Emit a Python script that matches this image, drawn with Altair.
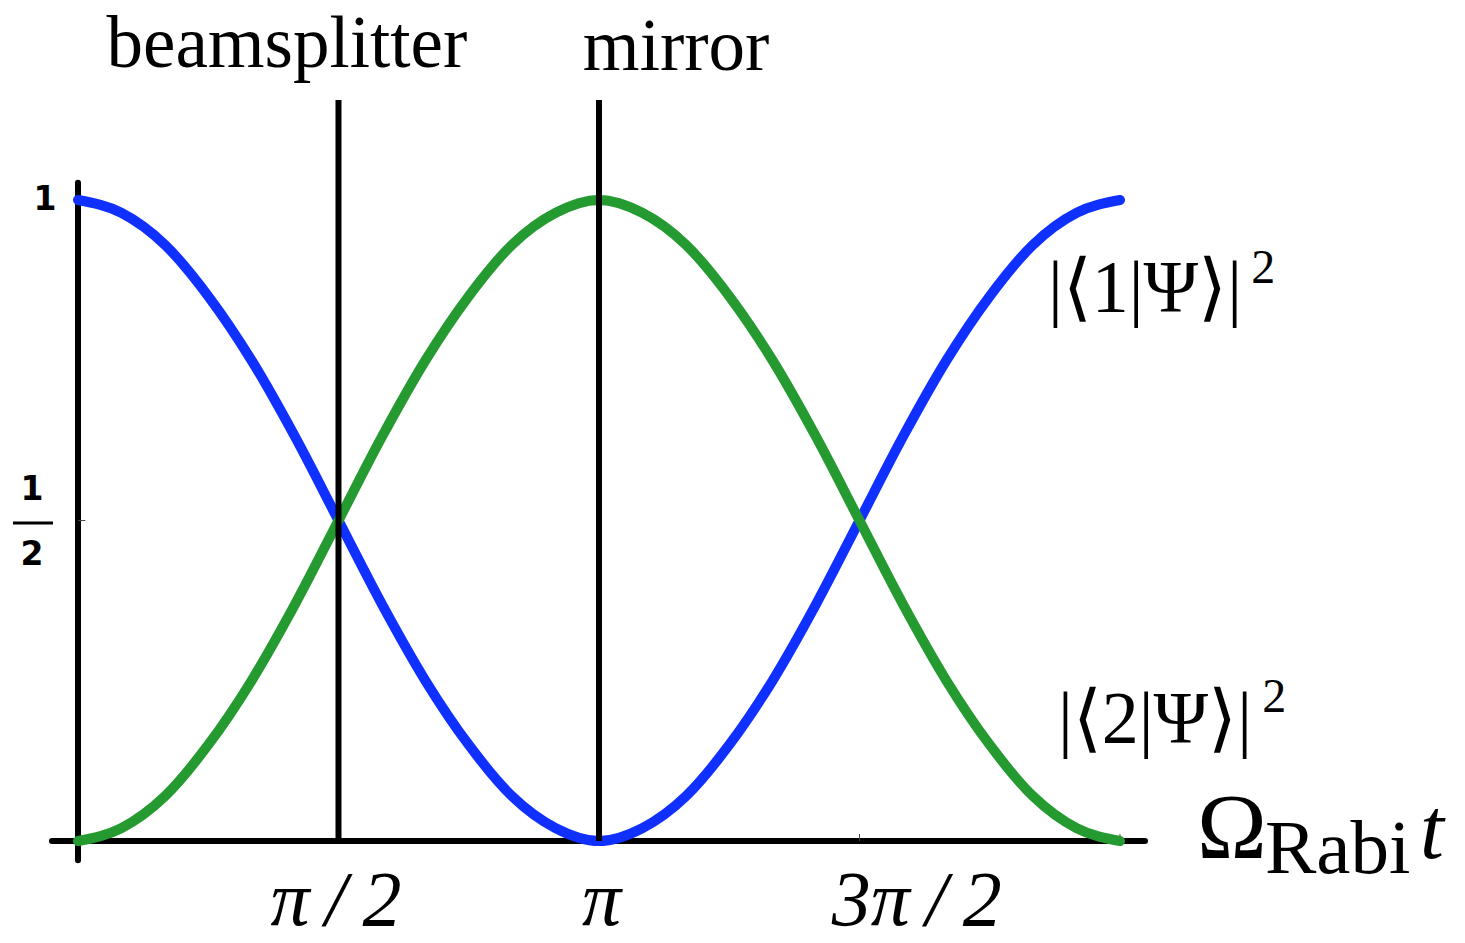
import altair as alt
import pandas as pd

# Rabi oscillation: populations of the two states versus pulse area (in units of pi)
t_over_pi = [0.0, 0.083, 0.167, 0.25, 0.333, 0.417, 0.5, 0.583, 0.667, 0.75, 0.833, 0.917,
             1.0, 1.083, 1.167, 1.25, 1.333, 1.417, 1.5, 1.583, 1.667, 1.75, 1.833, 1.917, 2.0]
pop_state1 = [1.00, 0.98, 0.93, 0.85, 0.75, 0.63, 0.50, 0.37, 0.25, 0.15, 0.07, 0.02,
              0.00, 0.02, 0.07, 0.15, 0.25, 0.37, 0.50, 0.63, 0.75, 0.85, 0.93, 0.98, 1.00]
pop_state2 = [0.00, 0.02, 0.07, 0.15, 0.25, 0.37, 0.50, 0.63, 0.75, 0.85, 0.93, 0.98,
              1.00, 0.98, 0.93, 0.85, 0.75, 0.63, 0.50, 0.37, 0.25, 0.15, 0.07, 0.02, 0.00]

# pulse markers
pulse_at = [0.5, 1.0]
pulse_names = ["beamsplitter", "mirror"]

# x tick labels
x_tick_labels = ["π\u2009/\u20092", "π", "3π\u2009/\u20092"]

BLUE = "#1030ff"
GREEN = "#259a30"
SERIF = "Liberation Serif"
SANS = "DejaVu Sans"

xs = alt.Scale(domain=[-0.1497, 2.6622], nice=False, zero=False)
ys = alt.Scale(domain=[-0.1591, 1.3120], nice=False, zero=False)


def enc(**kw):
    out = {}
    for k, v in kw.items():
        if k == "x":
            out[k] = alt.X(v, type="quantitative", scale=xs, axis=None)
        elif k == "x2":
            out[k] = alt.X2(v)
        elif k == "y":
            out[k] = alt.Y(v, type="quantitative", scale=ys, axis=None)
        elif k == "y2":
            out[k] = alt.Y2(v)
        else:
            out[k] = v
    return out


curves = pd.DataFrame({"t": t_over_pi, "p1": pop_state1, "p2": pop_state2})

blue_line = alt.Chart(curves).mark_line(
    color=BLUE, strokeWidth=10, strokeCap="round", strokeJoin="round", interpolate="monotone"
).encode(**enc(x="t", y="p1"))
green_line = alt.Chart(curves).mark_line(
    color=GREEN, strokeWidth=10, strokeCap="round", strokeJoin="round", interpolate="monotone"
).encode(**enc(x="t", y="p2"))

# axis lines
axes_df = pd.DataFrame({
    "x": [0.0, -0.05], "x2": [0.0, 2.048],
    "y": [-0.03, 0.0], "y2": [1.027, 0.0],
})
axes = alt.Chart(axes_df).mark_rule(color="black", strokeWidth=6, strokeCap="round").encode(
    **enc(x="x", x2="x2", y="y", y2="y2"))

# small ticks
ticks_df = pd.DataFrame({
    "x": [1.5, 2.0, 0.0], "x2": [1.5, 2.0, 0.014],
    "y": [0.0, 0.0, 0.5], "y2": [0.011, 0.011, 0.5],
})
ticks = alt.Chart(ticks_df).mark_rule(color="#444444", strokeWidth=1).encode(
    **enc(x="x", x2="x2", y="y", y2="y2"))

# vertical pulse lines
pulse_df = pd.DataFrame({"x": pulse_at, "y": [0.0, 0.0], "y2": [1.156, 1.156]})
pulses = alt.Chart(pulse_df).mark_rule(color="black", strokeWidth=6).encode(
    **enc(x="x", y="y", y2="y2"))


def text_layer(rows, size, font=SERIF, style="normal", weight="normal", align="left",
               baseline="alphabetic"):
    df = pd.DataFrame(rows, columns=["x", "y", "label"])
    return alt.Chart(df).mark_text(
        fontSize=size, font=font, fontStyle=style, fontWeight=weight,
        align=align, baseline=baseline, color="black"
    ).encode(**enc(x="x", y="y", text="label:N"))


pulse_text = text_layer(
    [(0.401, 1.2075, pulse_names[0]), (1.148, 1.2028, pulse_names[1])],
    73, align="center")

xlabels = text_layer(
    [(0.495, -0.131, x_tick_labels[0]), (1.005, -0.131, x_tick_labels[1]),
     (1.61, -0.131, x_tick_labels[2])],
    78, style="italic", align="center")

ylabels = text_layer(
    [(-0.0633, 1.0, "1"), (-0.0883, 0.5476, "1"), (-0.0883, 0.4462, "2")],
    33, font=SANS, weight="bold", align="center", baseline="middle")
frac_bar = alt.Chart(pd.DataFrame({"x": [-0.1248], "x2": [-0.048], "y": [0.4961]})).mark_rule(
    color="black", strokeWidth=3).encode(**enc(x="x", x2="x2", y="y"))

lab1 = text_layer([(1.8618, 0.8253, "|⟨1|Ψ⟩|")], 74)
lab1_sup = text_layer([(2.252, 0.8705, "2")], 48)
lab2 = text_layer([(1.881, 0.1529, "|⟨2|Ψ⟩|")], 74)
lab2_sup = text_layer([(2.273, 0.2012, "2")], 48)

omega = text_layer([(2.1478, -0.0265, "Ω")], 94)
rabi = text_layer([(2.2783, -0.0499, "Rabi")], 77)
tvar = text_layer([(2.5758, -0.0265, "t")], 86, style="italic")

chart = alt.layer(
    axes, ticks, blue_line, green_line, pulses,
    pulse_text, xlabels, ylabels, frac_bar,
    lab1, lab1_sup, lab2, lab2_sup, omega, rabi, tvar,
).properties(
    width=1465, height=943, padding=0, autosize="none", background="white"
).configure_view(stroke=None)

chart.save("out.html", embed_options={"renderer": "svg", "actions": False})
